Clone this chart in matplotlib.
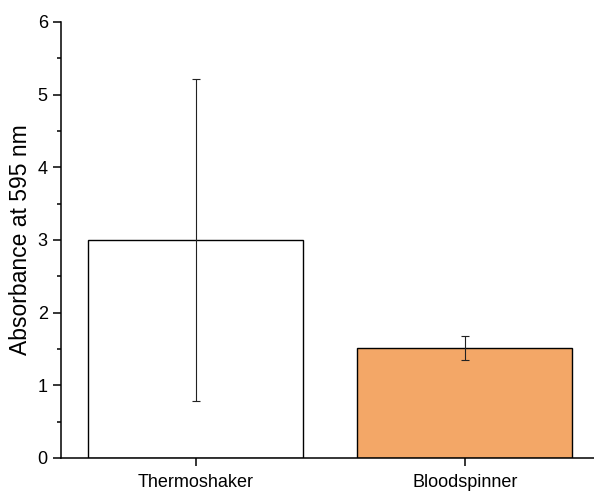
import matplotlib.pyplot as plt
import numpy as np

# data
categories = ['Thermoshaker', 'Bloodspinner']
means = [3.0, 1.52]
errors = [2.21, 0.165]
bar_colors = ['white', '#F3A767']

plt.rcParams['font.family'] = ['Liberation Sans', 'DejaVu Sans']

fig = plt.figure(figsize=(5.94, 4.94), dpi=100)
ax = fig.add_axes([0.1027, 0.0729, 0.8973, 0.8826])

x = np.arange(len(categories))
ax.bar(x, means, width=0.8, color=bar_colors, edgecolor='black', linewidth=1.0, zorder=2)
ax.errorbar(x, means, yerr=errors, fmt='none', ecolor='#222222', elinewidth=0.8,
            capsize=3.2, capthick=0.8, zorder=3)

ax.set_xlim(-0.5, 1.48)
ax.set_ylim(0, 6)
ax.set_xticks(x)
ax.set_xticklabels(categories)
ax.set_yticks(range(0, 7))
ax.set_yticks(np.arange(0.5, 6, 1), minor=True)
ax.set_ylabel('Absorbance at 595 nm', fontsize=16.5)

for s in ['top', 'right']:
    ax.spines[s].set_visible(False)
for s in ['left', 'bottom']:
    ax.spines[s].set_linewidth(1.1)

ax.tick_params(axis='both', which='major', direction='out', length=6, width=1.1, labelsize=13)
ax.tick_params(axis='x', which='major', pad=5.5)
ax.tick_params(axis='y', which='minor', direction='out', length=3, width=1.1)

fig.savefig('out.png', dpi=100)
